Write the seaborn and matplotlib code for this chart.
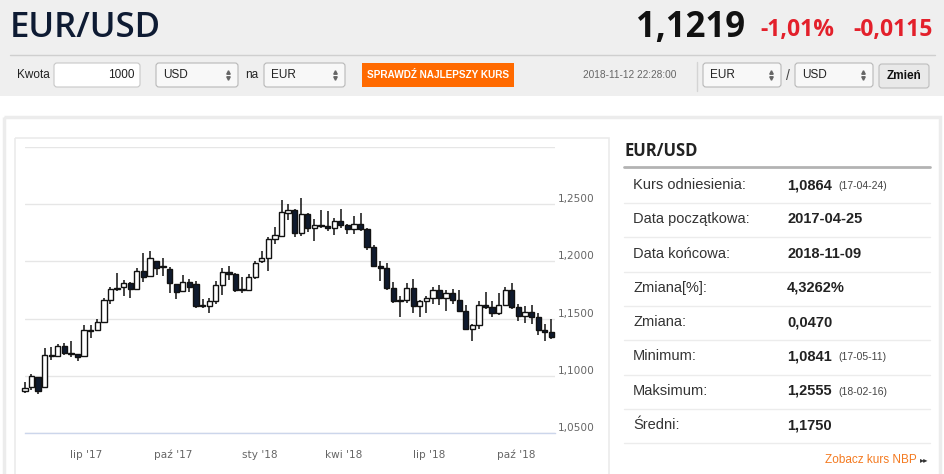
import numpy as np
import pandas as pd
import seaborn as sns
import matplotlib.pyplot as plt
from matplotlib.patches import Rectangle, FancyBboxPatch
from matplotlib.transforms import ScaledTranslation

# --- data: weekly OHLC (EUR/USD, 2017-04-25 .. 2018-11-09)
week_start = pd.date_range('2017-04-24', periods=81, freq='W-MON')
opens = [1.0865, 1.0900, 1.0990, 1.0900, 1.1180, 1.1170, 1.1260, 1.1200, 1.1190, 1.1170,
         1.1390, 1.1400, 1.1470, 1.1660, 1.1760, 1.1780, 1.1810, 1.1760, 1.1920, 1.1870,
         1.2000, 1.1950, 1.1930, 1.1800, 1.1740, 1.1820, 1.1800, 1.1620, 1.1610, 1.1650,
         1.1790, 1.1910, 1.1890, 1.1750, 1.1750, 1.1860, 1.2000, 1.2030, 1.2200, 1.2220,
         1.2420, 1.2450, 1.2250, 1.2410, 1.2290, 1.2320, 1.2310, 1.2290, 1.2350, 1.2320,
         1.2280, 1.2330, 1.2280, 1.2130, 1.1960, 1.1940, 1.1770, 1.1650, 1.1660, 1.1770,
         1.1610, 1.1650, 1.1680, 1.1750, 1.1680, 1.1720, 1.1660, 1.1570, 1.1410, 1.1440,
         1.1620, 1.1600, 1.1550, 1.1620, 1.1750, 1.1600, 1.1520, 1.1560, 1.1510, 1.1400,
         1.1380]
highs = [1.0948, 1.1020, 1.0990, 1.1240, 1.1250, 1.1280, 1.1290, 1.1300, 1.1190, 1.1440,
         1.1440, 1.1500, 1.1680, 1.1780, 1.1900, 1.1840, 1.1820, 1.1940, 1.2070, 1.2090,
         1.2000, 1.2030, 1.1950, 1.1800, 1.1880, 1.1850, 1.1830, 1.1670, 1.1680, 1.1830,
         1.1940, 1.1960, 1.1900, 1.1860, 1.1890, 1.2000, 1.2090, 1.2210, 1.2300, 1.2540,
         1.2500, 1.2460, 1.2555, 1.2420, 1.2370, 1.2450, 1.2440, 1.2380, 1.2460, 1.2330,
         1.2400, 1.2420, 1.2290, 1.2140, 1.2000, 1.1990, 1.1820, 1.1700, 1.1810, 1.1850,
         1.1660, 1.1700, 1.1780, 1.1790, 1.1750, 1.1760, 1.1750, 1.1620, 1.1450, 1.1650,
         1.1730, 1.1650, 1.1720, 1.1780, 1.1810, 1.1630, 1.1610, 1.1620, 1.1550, 1.1450,
         1.1500]
lows = [1.0852, 1.0880, 1.0841, 1.0890, 1.1140, 1.1160, 1.1180, 1.1160, 1.1130, 1.1160,
        1.1330, 1.1390, 1.1460, 1.1630, 1.1740, 1.1700, 1.1680, 1.1750, 1.1820, 1.1870,
        1.1880, 1.1870, 1.1720, 1.1670, 1.1730, 1.1730, 1.1590, 1.1590, 1.1550, 1.1630,
        1.1710, 1.1840, 1.1730, 1.1720, 1.1740, 1.1850, 1.1990, 1.1920, 1.2150, 1.2220,
        1.2360, 1.2210, 1.2220, 1.2260, 1.2180, 1.2290, 1.2270, 1.2230, 1.2290, 1.2240,
        1.2240, 1.2270, 1.2100, 1.1950, 1.1830, 1.1750, 1.1640, 1.1510, 1.1640, 1.1550,
        1.1510, 1.1550, 1.1630, 1.1620, 1.1570, 1.1630, 1.1560, 1.1400, 1.1300, 1.1410,
        1.1580, 1.1510, 1.1530, 1.1610, 1.1580, 1.1480, 1.1460, 1.1450, 1.1360, 1.1300,
        1.1320]
closes = [1.0895, 1.0995, 1.0870, 1.1180, 1.1170, 1.1260, 1.1200, 1.1190, 1.1160, 1.1400,
          1.1390, 1.1470, 1.1660, 1.1760, 1.1770, 1.1810, 1.1760, 1.1920, 1.1860, 1.2030,
          1.1940, 1.1950, 1.1810, 1.1730, 1.1820, 1.1780, 1.1610, 1.1610, 1.1650, 1.1790,
          1.1910, 1.1890, 1.1750, 1.1750, 1.1860, 1.1990, 1.2030, 1.2200, 1.2230, 1.2430,
          1.2450, 1.2250, 1.2410, 1.2290, 1.2320, 1.2310, 1.2290, 1.2350, 1.2320, 1.2280,
          1.2330, 1.2280, 1.2130, 1.1960, 1.1940, 1.1770, 1.1650, 1.1660, 1.1770, 1.1610,
          1.1650, 1.1680, 1.1750, 1.1680, 1.1720, 1.1660, 1.1570, 1.1410, 1.1440, 1.1620,
          1.1600, 1.1550, 1.1620, 1.1750, 1.1600, 1.1520, 1.1560, 1.1510, 1.1400, 1.1380,
          1.1340]

y_ticks = [1.05, 1.10, 1.15, 1.20, 1.25, 1.30]
y_labels = ['1,0500', '1,1000', '1,1500', '1,2000', '1,2500', '']
x_tick_dates = pd.to_datetime(['2017-07-01', '2017-10-01', '2018-01-01',
                               '2018-04-01', '2018-07-01', '2018-10-01'])
x_labels = ["lip '17", "paź '17", "sty '18", "kwi '18", "lip '18", "paź '18"]

pair = 'EUR/USD'
rate, pct, diff = '1,1219', '-1,01%', '-0,0115'
stamp = '2018-11-12 22:28:00'
row_labels = ['Kurs odniesienia:', 'Data początkowa:', 'Data końcowa:', 'Zmiana[%]:',
              'Zmiana:', 'Minimum:', 'Maksimum:', 'Średni:']
row_values = ['1,0864', '2017-04-25', '2018-11-09', '4,3262%', '0,0470',
              '1,0841', '1,2555', '1,1750']
row_dates = ['(17-04-24)', '', '', '', '', '(17-05-11)', '(18-02-16)', '']

sns.set_style('white')
plt.rcParams['font.family'] = ['Liberation Sans', 'DejaVu Sans']

W, H = 945, 474
fig = plt.figure(figsize=(W / 100, H / 100), dpi=100)
page = fig.add_axes([0, 0, 1, 1], zorder=0)
page.set_xlim(0, W)
page.set_ylim(H, 0)
page.axis('off')

# page background
page.add_patch(Rectangle((0, 0), W, 96, color='#efefef', lw=0))
page.add_patch(Rectangle((4, 117), 936, 380, fill=False, ec='#ececec', lw=2.5))
page.add_patch(Rectangle((14.5, 138), 594.5, 350, fill=False, ec='#ebebeb', lw=1.2))

# header
page.text(10, 28, pair, fontsize=25, family='Open Sans', weight='semibold',
          color='#0e1b33', va='center')
page.text(745, 28, rate, fontsize=25, family='Open Sans', weight='bold',
          color='#111111', va='center', ha='right')
page.text(760, 30, pct, fontsize=16.5, family='Open Sans', weight='bold',
          color='#e3202b', va='center')
page.text(933, 30, diff, fontsize=16.5, family='Open Sans', weight='bold',
          color='#e3202b', va='center', ha='right')
page.plot([10, 935], [55, 55], color='#cfcfcf', lw=1)


def box(x0, x1, face='#f8f8f8', edge='#b8b8b8', y0=63, y1=87):
    page.add_patch(FancyBboxPatch((x0, y0), x1 - x0, y1 - y0,
                                  boxstyle='round,pad=0,rounding_size=3',
                                  fc=face, ec=edge, lw=0.8))


def select(x0, x1, label):
    box(x0, x1)
    page.text(x0 + 7, 75, label, fontsize=8.5, va='center', color='#222222')
    page.plot([x1 - 10], [72], marker='^', ms=2.5, color='#666666')
    page.plot([x1 - 10], [78], marker='v', ms=2.5, color='#666666')


page.text(17, 75, 'Kwota', fontsize=8.5, va='center', color='#222222')
box(54, 140, face='white', edge='#c8c8c8')
page.text(135, 75, '1000', fontsize=8.5, va='center', ha='right', color='#222222')
select(156, 238, 'USD')
page.text(245, 75, 'na', fontsize=8.5, va='center', color='#222222')
select(264, 345, 'EUR')
page.add_patch(Rectangle((362, 63), 152, 24, color='#ff6a00', lw=0))
page.text(438, 75, 'SPRAWDŹ NAJLEPSZY KURS', fontsize=7.2, weight='bold',
          color='white', ha='center', va='center')
page.text(583, 75, stamp, fontsize=7.3, va='center', color='#666666')
page.plot([697, 697], [62, 91], color='#d4d4d4', lw=1)
select(703, 781, 'EUR')
page.text(788, 76, '/', fontsize=10, va='center', ha='center', color='#444444')
select(795, 873, 'USD')
box(879, 929, face='#e9e9e9', edge='#bdbdbd', y0=64, y1=88)
page.text(904, 76, 'Zmień', fontsize=8.5, weight='bold', ha='center', va='center',
          color='#111111')

# stats table
page.text(624, 151, pair, fontsize=12, family='Open Sans', weight='bold',
          color='#222222', va='center')
page.plot([624, 930], [167, 167], color='#b3b3b3', lw=2)
for i, (lab, val, dt) in enumerate(zip(row_labels, row_values, row_dates)):
    yc = 185 + i * 34.3
    page.text(633, yc, lab, fontsize=10.5, va='center', color='#333333')
    page.text(787, yc, val, fontsize=10.5, weight='bold', va='center', color='#222222')
    if dt:
        page.text(838, yc + 1, dt, fontsize=7.5, va='center', color='#444444')
    page.plot([624, 930], [yc + 18, yc + 18], color='#ececec', lw=1)
page.text(917, 460, 'Zobacz kurs NBP', fontsize=8.5, ha='right', va='center',
          color='#f47a20')
page.text(920, 460, '▸▸', fontsize=6, family='DejaVu Sans', va='center', color='#333333')

# chart
ax = fig.add_axes([25 / W, 1 - 433 / H, 530 / W, 286 / H], zorder=1)
ax.set_facecolor('none')
x0 = pd.Timestamp('2017-04-25')
ax.set_xlim(x0 + pd.Timedelta(days=1.6), x0 + pd.Timedelta(days=565.4))
ax.set_ylim(1.05, 1.30)

centers = week_start + pd.Timedelta(days=2.5)
o = np.array(opens)
c = np.array(closes)
up = c >= o
ax.vlines(centers, lows, highs, color='#111111', lw=1.1, zorder=3, clip_on=False)
ax.bar(centers, np.maximum(np.abs(c - o), 0.0008), bottom=np.minimum(o, c),
       width=5.6, color=np.where(up, 'white', '#0f1a2e'), edgecolor='#111111',
       linewidth=1.0, zorder=4, clip_on=False)

ax.set_yticks(y_ticks)
ax.set_yticklabels(y_labels)
ax.yaxis.tick_right()
ax.tick_params(axis='y', length=0, pad=2, labelsize=7.6, labelcolor='#666666')
for lab in ax.get_yticklabels():
    lab.set_family('DejaVu Sans')
    lab.set_transform(lab.get_transform() + ScaledTranslation(0, 0.06, fig.dpi_scale_trans))
ax.grid(axis='y', color='#e6e6e6', lw=1)
ax.set_xticks(x_tick_dates)
ax.set_xticklabels(x_labels)
ax.tick_params(axis='x', length=9, width=1, color='#ccd6eb', pad=3,
               labelsize=7.6, labelcolor='#666666')
for lab in ax.get_xticklabels():
    lab.set_family('DejaVu Sans')
for s in ['top', 'left', 'right']:
    ax.spines[s].set_visible(False)
ax.spines['bottom'].set_color('#ccd6eb')
ax.spines['bottom'].set_linewidth(1)

fig.savefig('out.png', dpi=100)
